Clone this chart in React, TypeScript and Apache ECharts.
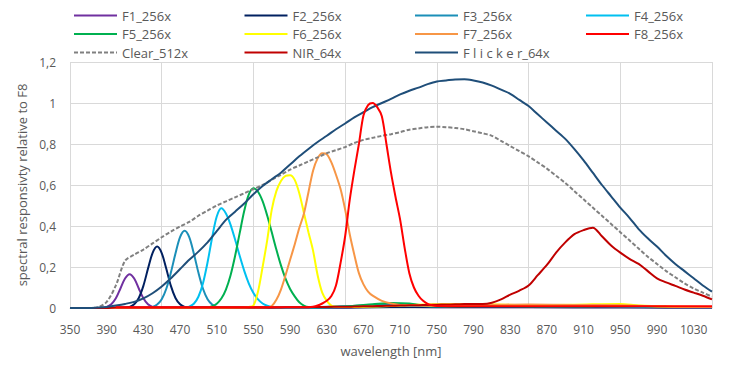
import React, { useEffect, useRef } from "react";
import * as echarts from "echarts";

// shared 10 nm grid used by the broad curves
const wavelengths: number[] = [];
for (let w = 350; w <= 1050; w += 10) wavelengths.push(w);

const xLabelValues = [350, 390, 430, 470, 510, 550, 590, 630, 670, 710, 750, 790, 830, 870, 910, 950, 990, 1030];

const seriesNames = ["F1_256x", "F2_256x", "F3_256x", "F4_256x", "F5_256x", "F6_256x", "F7_256x", "F8_256x", "Clear_512x", "NIR_64x", "F l i c k e r_64x"];
const seriesColors = ["#7030A0", "#002060", "#1B8FB8", "#00C0F0", "#00B050", "#FFFF00", "#F79646", "#FF0000", "#808080", "#C00000", "#1F4E79"];
// drawing order (F8 drawn last so that its red baseline stays on top, as in the reference)
const drawOrder = [0, 1, 2, 3, 4, 5, 6, 8, 9, 10, 7];

const f1Wl = [350, 380, 385, 390, 395, 400, 405, 410, 415, 420, 425, 430, 435, 440, 445, 450, 500, 600, 650, 680, 700, 750, 800, 900, 950, 1000, 1050];
const f1Val = [0, 0, 0.001, 0.005, 0.018, 0.047, 0.095, 0.144, 0.165, 0.144, 0.095, 0.047, 0.018, 0.005, 0.002, 0.002, 0.002, 0.002, 0.003, 0.005, 0.005, 0.004, 0.004, 0.004, 0.004, 0.003, 0.003];

const f2Wl = [350, 400, 410, 415, 420, 425, 430, 435, 440, 445, 450, 455, 460, 465, 470, 475, 480, 550, 650, 700, 800, 900, 1000, 1050];
const f2Val = [0, 0.001, 0.002, 0.005, 0.018, 0.049, 0.108, 0.191, 0.268, 0.3, 0.268, 0.191, 0.108, 0.049, 0.018, 0.005, 0.002, 0.002, 0.003, 0.005, 0.005, 0.004, 0.003, 0.003];

const f3Wl = [350, 400, 435, 440, 445, 450, 455, 460, 465, 470, 475, 480, 485, 490, 495, 500, 505, 510, 515, 520, 600, 650, 700, 720, 750, 800, 850, 900, 1000, 1050];
const f3Val = [0, 0.001, 0.002, 0.005, 0.017, 0.043, 0.094, 0.173, 0.266, 0.346, 0.377, 0.346, 0.266, 0.173, 0.094, 0.043, 0.017, 0.005, 0.002, 0.002, 0.003, 0.008, 0.018, 0.013, 0.007, 0.012, 0.01, 0.008, 0.005, 0.005];

const f4Wl = [350, 450, 475, 480, 485, 490, 495, 500, 505, 510, 515, 520, 525, 530, 535, 540, 545, 550, 555, 560, 565, 570, 580, 600, 700, 800, 900, 950, 1000, 1050];
const f4Val = [0, 0.001, 0.002, 0.007, 0.021, 0.055, 0.121, 0.223, 0.344, 0.446, 0.486, 0.461, 0.407, 0.334, 0.255, 0.181, 0.119, 0.073, 0.042, 0.022, 0.011, 0.005, 0.002, 0.002, 0.01, 0.009, 0.009, 0.01, 0.006, 0.005];

const f5Wl = [350, 480, 500, 505, 510, 515, 520, 525, 530, 535, 540, 545, 550, 555, 560, 565, 570, 575, 580, 585, 590, 595, 600, 605, 610, 620, 650, 680, 700, 720, 740, 760, 800, 900, 950, 1000, 1050];
const f5Val = [0, 0.001, 0.004, 0.009, 0.021, 0.046, 0.09, 0.159, 0.254, 0.365, 0.474, 0.554, 0.584, 0.567, 0.521, 0.451, 0.369, 0.285, 0.208, 0.143, 0.093, 0.057, 0.028, 0.012, 0.005, 0.004, 0.007, 0.018, 0.025, 0.022, 0.01, 0.008, 0.01, 0.008, 0.012, 0.006, 0.005];

const f6Wl = [350, 500, 540, 545, 550, 555, 560, 565, 570, 575, 580, 585, 590, 595, 600, 605, 610, 615, 620, 625, 630, 635, 640, 650, 700, 750, 800, 850, 900, 950, 970, 1000, 1050];
const f6Val = [0, 0.001, 0.003, 0.005, 0.012, 0.08, 0.2, 0.33, 0.48, 0.57, 0.62, 0.645, 0.648, 0.625, 0.56, 0.465, 0.37, 0.28, 0.16, 0.075, 0.035, 0.012, 0.006, 0.005, 0.01, 0.018, 0.018, 0.014, 0.016, 0.02, 0.012, 0.007, 0.005];

const f7Wl = [350, 500, 560, 565, 570, 575, 580, 585, 590, 595, 600, 605, 610, 615, 620, 625, 630, 635, 640, 645, 650, 655, 660, 665, 670, 675, 680, 690, 700, 710, 720, 750, 800, 850, 900, 950, 1000, 1050];
const f7Val = [0, 0.001, 0.002, 0.003, 0.01, 0.04, 0.09, 0.16, 0.235, 0.31, 0.39, 0.46, 0.565, 0.67, 0.73, 0.755, 0.75, 0.71, 0.65, 0.58, 0.48, 0.36, 0.26, 0.17, 0.115, 0.08, 0.06, 0.035, 0.022, 0.015, 0.012, 0.01, 0.015, 0.017, 0.015, 0.014, 0.007, 0.005];

const f8Wl = [400, 500, 600, 610, 615, 620, 625, 630, 635, 640, 645, 650, 655, 660, 665, 670, 675, 680, 685, 690, 695, 700, 705, 710, 715, 720, 725, 730, 735, 740, 745, 750, 800, 900, 1000, 1050];
const f8Val = [0.004, 0.004, 0.004, 0.004, 0.006, 0.012, 0.022, 0.035, 0.058, 0.11, 0.22, 0.35, 0.527, 0.67, 0.8, 0.94, 0.99, 1.0, 0.98, 0.935, 0.8, 0.66, 0.54, 0.43, 0.29, 0.17, 0.1, 0.06, 0.035, 0.02, 0.013, 0.01, 0.008, 0.008, 0.008, 0.008];

const clearVal = [
  0, 0, 0, 0.003, 0.03, 0.11, 0.23, 0.26, 0.285, 0.315,
  0.345, 0.373, 0.398, 0.42, 0.45, 0.475, 0.5, 0.52, 0.54, 0.56,
  0.58, 0.6, 0.625, 0.65, 0.675, 0.695, 0.715, 0.735, 0.755, 0.77,
  0.785, 0.805, 0.82, 0.83, 0.84, 0.848, 0.858, 0.87, 0.876, 0.882,
  0.884, 0.882, 0.878, 0.872, 0.862, 0.852, 0.84, 0.815, 0.79, 0.765,
  0.74, 0.71, 0.68, 0.645, 0.61, 0.57, 0.53, 0.49, 0.45, 0.41,
  0.37, 0.33, 0.29, 0.25, 0.215, 0.18, 0.15, 0.12, 0.095, 0.075,
  0.055,
];
const nirVal = [
  0, 0, 0, 0, 0, 0.003, 0.003, 0.003, 0.003, 0.003,
  0.003, 0.003, 0.003, 0.003, 0.003, 0.003, 0.003, 0.003, 0.003, 0.003,
  0.003, 0.003, 0.003, 0.003, 0.004, 0.004, 0.004, 0.005, 0.005, 0.006,
  0.006, 0.007, 0.008, 0.009, 0.01, 0.011, 0.012, 0.013, 0.014, 0.015,
  0.016, 0.017, 0.018, 0.019, 0.02, 0.02, 0.026, 0.042, 0.065, 0.085,
  0.11, 0.16, 0.21, 0.27, 0.32, 0.36, 0.38, 0.392, 0.35, 0.305,
  0.27, 0.24, 0.215, 0.18, 0.145, 0.125, 0.108, 0.09, 0.075, 0.06,
  0.042,
];
const flickerVal = [
  0, 0, 0, 0.002, 0.005, 0.012, 0.02, 0.03, 0.047, 0.072,
  0.105, 0.145, 0.19, 0.235, 0.275, 0.32, 0.375, 0.43, 0.47, 0.51,
  0.555, 0.595, 0.628, 0.66, 0.7, 0.74, 0.776, 0.81, 0.84, 0.872,
  0.9, 0.93, 0.955, 0.98, 1.0, 1.02, 1.042, 1.06, 1.075, 1.092,
  1.105, 1.11, 1.115, 1.116, 1.11, 1.1, 1.085, 1.065, 1.045, 1.015,
  0.985, 0.945, 0.905, 0.865, 0.825, 0.775, 0.72, 0.66, 0.6, 0.545,
  0.49, 0.44, 0.385, 0.34, 0.3, 0.255, 0.215, 0.18, 0.145, 0.11,
  0.08,
];

const seriesWl = [f1Wl, f2Wl, f3Wl, f4Wl, f5Wl, f6Wl, f7Wl, f8Wl, wavelengths, wavelengths, wavelengths];
const seriesValues = [f1Val, f2Val, f3Val, f4Val, f5Val, f6Val, f7Val, f8Val, clearVal, nirVal, flickerVal];

const FONT = "'Open Sans', sans-serif";
const TEXT_COLOR = "#595959";

export default function App() {
  const ref = useRef<HTMLDivElement>(null);
  useEffect(() => {
    if (!ref.current) return;
    const chart = echarts.init(ref.current, null, { renderer: "svg" });
    const colX = [68, 238.5, 409, 580];
    const rowY = [11, 29.5, 48];
    const legends = seriesNames.map((name, i) => ({
      data: [name],
      left: colX[i % 4],
      top: rowY[Math.floor(i / 4)] - 7,
      itemWidth: 43,
      itemHeight: 14,
      itemGap: 0,
      selectedMode: false,
      itemStyle: { opacity: 0 },
      textStyle: { fontSize: 13, color: TEXT_COLOR, fontFamily: FONT },
    }));
    const series = drawOrder.map((i) => {
      const name = seriesNames[i];
      return {
        name,
        type: "line",
        data: seriesWl[i].map((w, j) => [w, seriesValues[i][j]]),
        symbol: "none",
        smooth: 0.3,
        color: seriesColors[i],
        lineStyle: {
          width: 2,
          color: seriesColors[i],
          type: name === "Clear_512x" ? [4, 2] : "solid",
        },
      };
    });
    chart.setOption({
      animation: false,
      textStyle: { fontFamily: FONT },
      legend: legends,
      grid: { left: 70, right: 28, top: 62, bottom: 60, containLabel: false },
      xAxis: {
        type: "value",
        min: 350,
        max: 1050,
        interval: 100,
        name: "wavelength [nm]",
        nameLocation: "middle",
        nameGap: 36,
        nameTextStyle: { fontSize: 13, color: TEXT_COLOR, fontFamily: FONT },
        axisLine: { show: true, lineStyle: { color: "#D9D9D9", width: 1 } },
        axisTick: { show: false },
        axisLabel: {
          customValues: xLabelValues,
          fontSize: 12,
          color: TEXT_COLOR,
          fontFamily: FONT,
          margin: 15,
          formatter: (v: number) => String(Math.round(v)),
        },
        splitLine: { show: true, lineStyle: { color: "#D9D9D9", width: 1 } },
      },
      yAxis: {
        type: "value",
        min: 0,
        max: 1.2,
        interval: 0.2,
        name: "spectral responsivty relative to F8",
        nameLocation: "middle",
        nameGap: 40,
        nameTextStyle: { fontSize: 13, color: TEXT_COLOR, fontFamily: FONT },
        axisLine: { show: false },
        axisTick: { show: false },
        axisLabel: {
          fontSize: 12,
          color: TEXT_COLOR,
          fontFamily: FONT,
          margin: 14,
          formatter: (v: number) => (v === 0 ? "0" : String(Math.round(v * 10) / 10).replace(".", ",")),
        },
        splitLine: { show: true, lineStyle: { color: "#D9D9D9", width: 1 } },
      },
      series,
    });
    return () => chart.dispose();
  }, []);
  return <div ref={ref} style={{ position: "absolute", left: 0, top: 0, width: 740, height: 368 }} />;
}
